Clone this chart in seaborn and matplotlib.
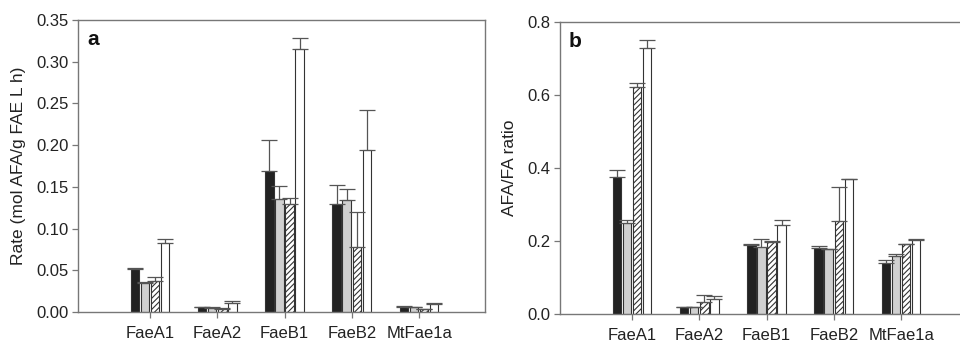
import numpy as np
import pandas as pd
import matplotlib
matplotlib.use("Agg")
import matplotlib.pyplot as plt
from matplotlib.container import BarContainer
import seaborn as sns

categories = ["FaeA1", "FaeA2", "FaeB1", "FaeB2", "MtFae1a"]
series = ["S1", "S2", "S3", "S4"]

# Panel a: rate (mol AFA/g FAE L h)
rate_s1 = [0.052, 0.0056, 0.1686, 0.1294, 0.0064]
rate_s2 = [0.035, 0.0044, 0.135, 0.1338, 0.0060]
rate_s3 = [0.0376, 0.0036, 0.130, 0.0775, 0.0030]
rate_s4 = [0.0827, 0.0104, 0.3156, 0.1946, 0.0096]
rate_e1 = [0.001, 0.0003, 0.037, 0.023, 0.0003]
rate_e2 = [0.0005, 0.0012, 0.0156, 0.0142, 0.0005]
rate_e3 = [0.004, 0.0008, 0.0066, 0.0425, 0.0005]
rate_e4 = [0.005, 0.0026, 0.0124, 0.048, 0.0008]

# Panel b: AFA/FA ratio
ratio_s1 = [0.3757, 0.020, 0.189, 0.180, 0.141]
ratio_s2 = [0.2486, 0.018, 0.184, 0.178, 0.160]
ratio_s3 = [0.6207, 0.033, 0.196, 0.254, 0.191]
ratio_s4 = [0.7285, 0.041, 0.244, 0.369, 0.204]
ratio_e1 = [0.020, 0.0005, 0.004, 0.007, 0.007]
ratio_e2 = [0.0084, 0.0005, 0.021, 0.0005, 0.004]
ratio_e3 = [0.013, 0.018, 0.004, 0.095, 0.0005]
ratio_e4 = [0.023, 0.007, 0.013, 0.0005, 0.0005]

rate_ticks = [0.00, 0.05, 0.10, 0.15, 0.20, 0.25, 0.30, 0.35]
ratio_ticks = [0.0, 0.2, 0.4, 0.6, 0.8]

sns.set_theme(style="white")
plt.rcParams["font.family"] = ["Liberation Sans", "DejaVu Sans"]
plt.rcParams["hatch.linewidth"] = 0.8

fills = ["#222222", "#d0d0d0", "#ffffff", "#ffffff"]
spine_c = "#777777"
text_c = "#222222"


def make_df(vals):
    rows = []
    for s, v in zip(series, vals):
        for c, x in zip(categories, v):
            rows.append({"cat": c, "series": s, "value": x})
    return pd.DataFrame(rows)


fig = plt.figure(figsize=(9.6, 3.42), dpi=100)
ax1 = fig.add_axes([78 / 960, 30 / 342, 407 / 960, 292 / 342])
ax2 = fig.add_axes([560 / 960, 28 / 342, 407 / 960, 292 / 342])


def draw(ax, vals, errs, ticks, ylabel, letter, fmt):
    df = make_df(vals)
    sns.barplot(data=df, x="cat", y="value", hue="series", order=categories,
                hue_order=series, palette=fills, width=0.6, gap=0.15,
                edgecolor="#333333", linewidth=0.8, legend=False, ax=ax,
                errorbar=None)
    bar_conts = [c for c in ax.containers if isinstance(c, BarContainer)]
    for i, cont in enumerate(bar_conts):
        xs, ys = [], []
        for bar in cont.patches:
            xs.append(bar.get_x() + bar.get_width() / 2)
            ys.append(bar.get_height())
            if i == 2:
                bar.set_hatch("//////")
        ax.errorbar(xs, ys, yerr=[np.zeros(len(ys)), errs[i]], fmt="none",
                    ecolor="#555555", elinewidth=0.9, capsize=6,
                    capthick=0.9, zorder=3)
    ax.set_xlim(-1.07, 4.98)
    ax.set_ylim(ticks[0], ticks[-1])
    ax.set_yticks(ticks)
    ax.set_yticklabels([fmt.format(t) for t in ticks])
    ax.set_xlabel("")
    ax.set_ylabel(ylabel, fontsize=12.5, color=text_c, labelpad=7)
    for s in ax.spines.values():
        s.set_color(spine_c)
        s.set_linewidth(1.0)
        s.set_visible(True)
    ax.tick_params(axis="both", which="major", direction="out", length=4,
                   width=0.9, color=spine_c, labelsize=12, labelcolor=text_c,
                   bottom=True, left=True)
    ax.tick_params(axis="x", pad=6)
    ax.tick_params(axis="y", pad=3)
    ax.text(0.022, 0.965, letter, transform=ax.transAxes, fontsize=15,
            fontweight="bold", va="top", ha="left", color="#111111")


draw(ax1, [rate_s1, rate_s2, rate_s3, rate_s4],
     [rate_e1, rate_e2, rate_e3, rate_e4], rate_ticks,
     "Rate (mol AFA/g FAE L h)", "a", "{:.2f}")
draw(ax2, [ratio_s1, ratio_s2, ratio_s3, ratio_s4],
     [ratio_e1, ratio_e2, ratio_e3, ratio_e4], ratio_ticks,
     "AFA/FA ratio", "b", "{:.1f}")

fig.savefig("out.png", dpi=100)
